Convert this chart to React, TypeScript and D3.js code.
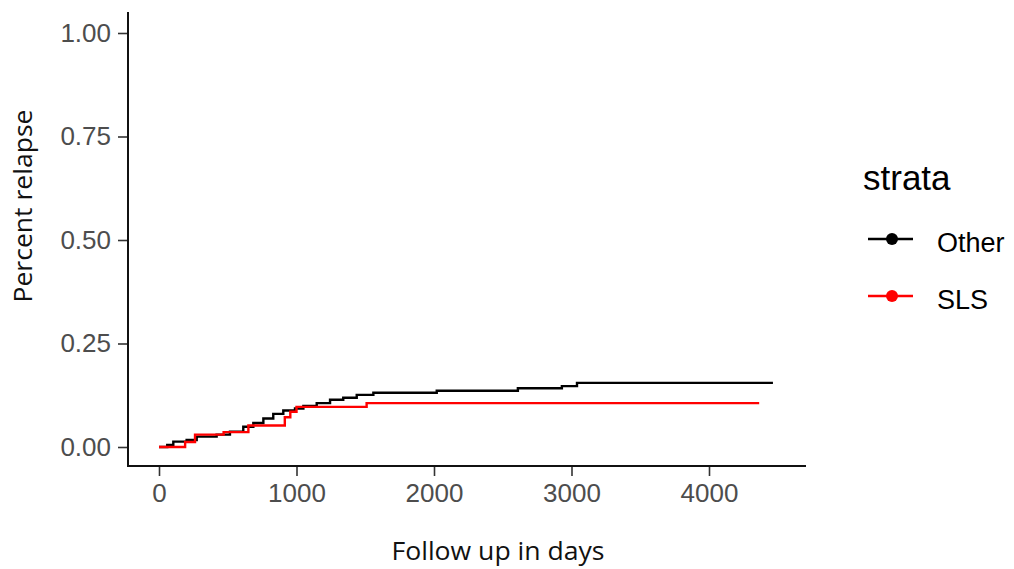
import { useRef, useEffect } from "react";
import * as d3 from "d3";

// Cumulative relapse
const otherDays = [0, 60, 104, 201, 274, 419, 516, 613, 686, 759, 831, 904, 989, 1050, 1147, 1244, 1340, 1438, 1559, 2020, 2610, 2930, 3040, 4465];
const otherRisk = [0, 0.005, 0.013, 0.017, 0.025, 0.03, 0.037, 0.049, 0.058, 0.069, 0.08, 0.088, 0.093, 0.099, 0.106, 0.114, 0.119, 0.126, 0.131, 0.136, 0.142, 0.147, 0.155, 0.155];

const slsDays = [0, 190, 262, 470, 650, 915, 955, 1000, 1510, 4365];
const slsRisk = [0, 0.012, 0.03, 0.036, 0.052, 0.072, 0.085, 0.097, 0.106, 0.106];

const strata = ["Other", "SLS"];
const strataColors = ["#000000", "#FF0000"];
const xTicks = [0, 1000, 2000, 3000, 4000];
const yTicks = [0, 0.25, 0.5, 0.75, 1];

const App = () => {
  const ref = useRef<SVGSVGElement | null>(null);

  useEffect(() => {
    const svg = d3.select(ref.current);
    svg.selectAll("*").remove();

    // panel extents
    const left = 128, right = 806, top = 12, bottom = 466;

    const x = d3.scaleLinear().domain([0, 4000]).range([159, 709]);
    const y = d3.scaleLinear().domain([0, 1]).range([447, 33]);

    const series = [
      otherDays.map((d, i) => [d, otherRisk[i]] as [number, number]),
      slsDays.map((d, i) => [d, slsRisk[i]] as [number, number]),
    ];

    const line = d3
      .line<[number, number]>()
      .x((d) => x(d[0]))
      .y((d) => y(d[1]))
      .curve(d3.curveStepAfter);

    // step curves
    series.forEach((s, i) => {
      svg
        .append("path")
        .attr("d", line(s))
        .attr("fill", "none")
        .attr("stroke", strataColors[i])
        .attr("stroke-width", 2.4);
    });

    const tickFont = "'Liberation Sans', Arial, sans-serif";

    // y axis
    const yAxis = svg.append("g").attr("transform", `translate(${left},0)`);
    yAxis.call(d3.axisLeft(y).tickValues(yTicks).tickFormat(d3.format(".2f")).tickSize(10).tickPadding(7));
    yAxis.select(".domain").remove();
    yAxis.selectAll(".tick line").attr("stroke", "#333").attr("stroke-width", 1.6);
    yAxis
      .selectAll(".tick text")
      .attr("fill", "#4D4D4D")
      .style("font-family", tickFont)
      .style("font-size", "26px");

    // x axis
    const xAxis = svg.append("g").attr("transform", `translate(0,${bottom})`);
    xAxis.call(d3.axisBottom(x).tickValues(xTicks).tickFormat(d3.format("d")).tickSize(10).tickPadding(8));
    xAxis.select(".domain").remove();
    xAxis.selectAll(".tick line").attr("stroke", "#333").attr("stroke-width", 1.6);
    xAxis
      .selectAll(".tick text")
      .attr("fill", "#4D4D4D")
      .style("font-family", tickFont)
      .style("font-size", "26px");

    // axis lines (theme_classic)
    svg
      .append("path")
      .attr("d", `M${left},${top}V${bottom}H${right}`)
      .attr("fill", "none")
      .attr("stroke", "#111")
      .attr("stroke-width", 2);

    // axis titles
    svg
      .append("text")
      .attr("x", 498)
      .attr("y", 560)
      .attr("text-anchor", "middle")
      .attr("textLength", 213)
      .attr("lengthAdjust", "spacingAndGlyphs")
      .style("font-family", "'Open Sans', sans-serif")
      .style("font-size", "25px")
      .attr("fill", "#111")
      .text("Follow up in days");

    svg
      .append("text")
      .attr("transform", "translate(32,206) rotate(-90)")
      .attr("text-anchor", "middle")
      .attr("textLength", 193)
      .attr("lengthAdjust", "spacingAndGlyphs")
      .style("font-family", "'Open Sans', sans-serif")
      .style("font-size", "25px")
      .attr("fill", "#111")
      .text("Percent relapse");

    // legend
    const legend = svg.append("g");
    legend
      .append("text")
      .attr("x", 863)
      .attr("y", 190)
      .style("font-family", tickFont)
      .style("font-size", "35px")
      .attr("fill", "#000")
      .text("strata");

    const rowY = [239, 296];
    strata.forEach((name, i) => {
      legend
        .append("line")
        .attr("x1", 868)
        .attr("x2", 913)
        .attr("y1", rowY[i])
        .attr("y2", rowY[i])
        .attr("stroke", strataColors[i])
        .attr("stroke-width", 2.4);
      legend
        .append("circle")
        .attr("cx", 892)
        .attr("cy", rowY[i])
        .attr("r", 6)
        .attr("fill", strataColors[i]);
      legend
        .append("text")
        .attr("x", 937)
        .attr("y", rowY[i] + 13)
        .style("font-family", tickFont)
        .style("font-size", "27px")
        .attr("fill", "#000")
        .text(name);
    });
  }, []);

  return (
    <svg
      ref={ref}
      width={1014}
      height={569}
      style={{ position: "absolute", left: 0, top: 0, background: "#fff" }}
    />
  );
};

export default App;
